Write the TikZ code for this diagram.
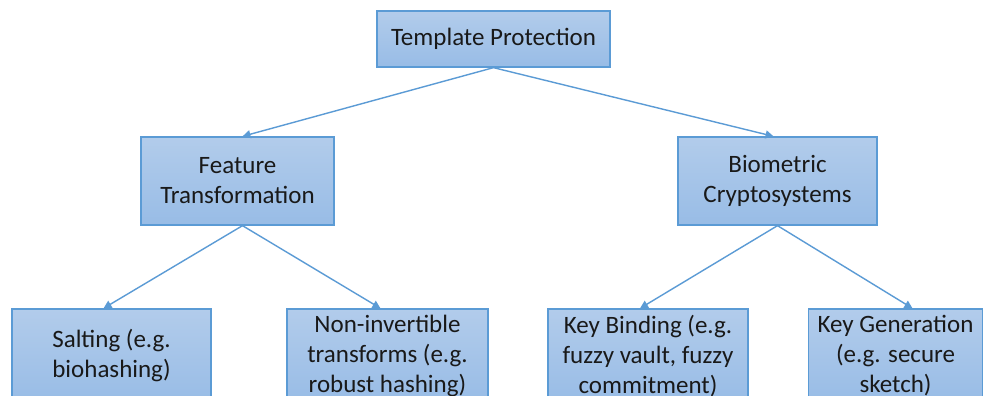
\documentclass[tikz,border=0pt]{standalone}
\usepackage{fontspec}
\setmainfont{Carlito}
\usepackage{tikz}
\usetikzlibrary{arrows.meta}

\definecolor{boxline}{RGB}{91,155,213}
\definecolor{boxtop}{RGB}{178,204,235}
\definecolor{boxbot}{RGB}{152,188,230}
\definecolor{boxtext}{RGB}{25,25,25}

\tikzset{
  box/.style={draw=boxline, line width=1.3pt, top color=boxtop, bottom color=boxbot,
    text=boxtext, align=center, inner sep=0pt,
    font=\fontsize{25}{30}\selectfont},
  link/.style={draw=boxline, line width=1.4pt, -{Triangle[length=8pt,width=8pt]}}
}

\begin{document}
\begin{tikzpicture}[x=1pt,y=-1pt]
       \fill[white] (0,0) rectangle (997,396);
       \clip (0,0) rectangle (997,396);

       \node[box, minimum width=233pt, minimum height=56pt] (prot) at (493.5, 39) {Template Protection};

       \node[box, minimum width=193pt, minimum height=88pt] (feat) at (237.5, 181) {Feature\\Transformation};
       \node[box, minimum width=199pt, minimum height=88pt] (bio) at (777.5, 181) {Biometric\\Cryptosystems};

       \node[box, minimum width=199pt, minimum height=94pt] (salt) at (111.5, 356) {Salting (e.g.\\biohashing)};
       \node[box, minimum width=201pt, minimum height=94pt] (noninv) at (387.5, 356) {Non-invertible\\transforms (e.g.\\robust hashing)};
       \node[box, minimum width=200pt, minimum height=94pt] (keybind) at (648, 356) {Key Binding (e.g.\\fuzzy vault, fuzzy\\commitment)};
       \node[box, minimum width=174pt, minimum height=94pt] (keygen) at (895.5, 356) {Key Generation\\(e.g. secure\\sketch)};

       \draw[link] (prot.south) -- ([xshift=5pt]feat.north);
       \draw[link] (prot.south) -- ([xshift=-4pt]bio.north);

       \draw[link] ([xshift=5pt]feat.south) -- ([xshift=-8pt]salt.north);
       \draw[link] ([xshift=5pt]feat.south) -- ([xshift=-7pt]noninv.north);
       \draw[link] (bio.south) -- ([xshift=-8pt]keybind.north);
       \draw[link] (bio.south) -- ([xshift=17pt]keygen.north);
      \end{tikzpicture}
\end{document}
